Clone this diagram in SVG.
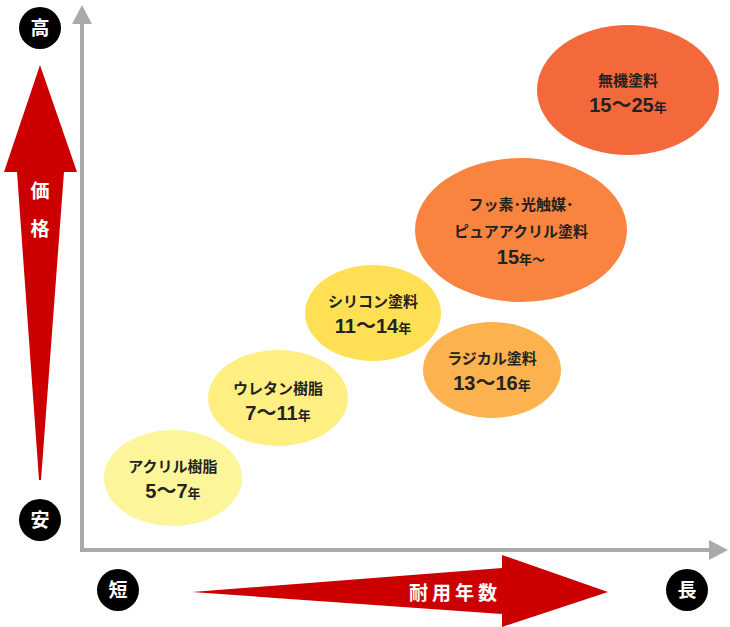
<svg xmlns="http://www.w3.org/2000/svg" width="730" height="627" viewBox="0 0 730 627">
<style>
text{font-family:"Noto Sans CJK JP","Liberation Sans",sans-serif;font-weight:bold}
.t{font-size:15px;fill:#222;text-anchor:middle}
.n{font-size:20px;fill:#222;text-anchor:middle;font-family:"Liberation Sans","Noto Sans CJK JP",sans-serif}
.s{font-size:13px;font-family:"Noto Sans CJK JP",sans-serif}
.c{fill:#000}
.ct{font-size:19px;fill:#fff;text-anchor:middle}
</style>
<g id="axes">
<line x1="82" y1="20" x2="82" y2="550" stroke="#aaa" stroke-width="4"/>
<polygon points="82,5 72,24 92,24" fill="#aaa"/>
<line x1="80" y1="550" x2="712" y2="550" stroke="#aaa" stroke-width="4"/>
<polygon points="728,550 709,540 709,560" fill="#aaa"/>
</g>
<g id="price-arrow">
<polygon points="40,65 77,172 64,172 41,480 39,480 17,172 4,172" fill="#c00"/>
<text x="40" y="198" class="ct" font-size="20">価</text>
<text x="40" y="236" class="ct" font-size="20">格</text>
</g>
<g id="life-arrow">
<polygon points="192,592 502,568 502,555 608,592 502,627 502,614" fill="#c00"/>
<text x="455" y="600" class="ct" font-size="20" letter-spacing="4">耐用年数</text>
</g>
<g id="labels">
<circle cx="40" cy="28" r="21" class="c"/><text x="40" y="35" class="ct">高</text>
<circle cx="40" cy="520" r="21" class="c"/><text x="40" y="527" class="ct">安</text>
<circle cx="118" cy="590" r="21" class="c"/><text x="118" y="597" class="ct">短</text>
<circle cx="687" cy="590" r="21" class="c"/><text x="687" y="597" class="ct">長</text>
</g>
<g id="acryl">
<ellipse cx="173" cy="478" rx="69" ry="48" fill="#fdf59a"/>
<text x="173" y="472" class="t">アクリル樹脂</text>
<text x="173" y="498" class="n">5～7<tspan class="s">年</tspan></text>
</g>
<g id="urethane">
<ellipse cx="278" cy="398" rx="70" ry="48" fill="#ffee82"/>
<text x="278" y="394" class="t">ウレタン樹脂</text>
<text x="278" y="420" class="n">7～11<tspan class="s">年</tspan></text>
</g>
<g id="silicone">
<ellipse cx="373" cy="313" rx="68" ry="48" fill="#ffe055"/>
<text x="373" y="307" class="t">シリコン塗料</text>
<text x="373" y="333" class="n">11～14<tspan class="s">年</tspan></text>
</g>
<g id="radical">
<ellipse cx="492" cy="370" rx="69" ry="48" fill="#fcb24e"/>
<text x="492" y="364" class="t">ラジカル塗料</text>
<text x="492" y="390" class="n">13～16<tspan class="s">年</tspan></text>
</g>
<g id="fluorine">
<ellipse cx="521" cy="230" rx="106" ry="72" fill="#f88440"/>
<text x="521" y="210" class="t">フッ素･光触媒･</text>
<text x="521" y="237" class="t">ピュアアクリル塗料</text>
<text x="521" y="264" class="n" font-size="18">15<tspan class="s">年～</tspan></text>
</g>
<g id="inorganic">
<ellipse cx="628" cy="90" rx="91" ry="65" fill="#f4693c"/>
<text x="628" y="86" class="t">無機塗料</text>
<text x="628" y="112" class="n">15～25<tspan class="s">年</tspan></text>
</g>
</svg>
